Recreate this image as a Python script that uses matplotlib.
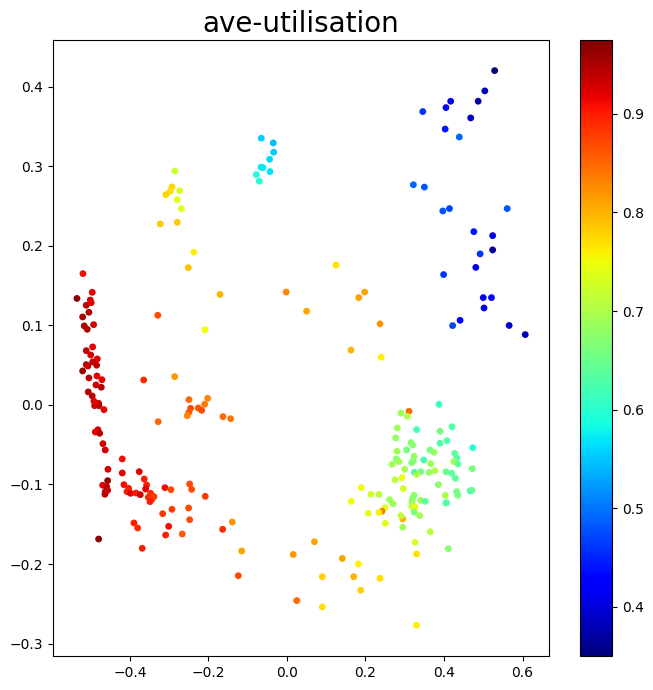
import matplotlib
matplotlib.use('Agg')
import matplotlib.pyplot as plt
import numpy as np

# values, one group of lists per cluster
blue_x = [.529,.504,.487,.417,.405,.346,.468,.403,.439,.322,.350,.414,.397,.561,.476,.524,.524,.492,.481,.399,.500,.521,.502,.441,.422,.566,.607]
blue_y = [.4205,.395,.382,.382,.374,.369,.361,.347,.337,.277,.274,.247,.244,.247,.218,.213,.195,.190,.173,.164,.135,.135,.122,.1065,.0998,.100,.0885]
blue_c = [.35,.38,.37,.42,.43,.46,.39,.44,.49,.49,.48,.47,.48,.48,.44,.41,.36,.46,.41,.46,.41,.41,.41,.43,.47,.39,.38]

cyan_x = [-.0655,-.0349,-.0339,-.0441,-.0662,-.0611,-.0782,-.0433,-.0706]
cyan_y = [.3355,.3296,.3179,.309,.299,.2985,.2897,.2935,.2814]
cyan_c = [.555,.545,.555,.56,.57,.57,.59,.565,.595]

yellow_x = [-.2854,-.293,-.2734,-.2973,-.3083,-.2795,-.2693,-.3228,-.2795]
yellow_y = [.2943,.2742,.2696,.2688,.2645,.2582,.2469,.2277,.2298]
yellow_c = [.72,.775,.73,.77,.775,.745,.74,.785,.785]

# scattered points in the middle and along the bottom
mid_x = [-.237,-.2514,-.1707,-.002,.050,.125,.183,.198,.237,.163,.240,-.209,-.329,-.286,-.365,
         -.2497,-.202,-.2097,-.226,-.2174,-.2454,-.2497,-.254,-.163,-.1434,-.328,
         .016,.07,.025,.141,.182,.09,.170,.237,.188,.09,.33]
mid_y = [.192,.1727,.139,.142,.118,.176,.135,.142,.102,.069,.060,.0947,.1128,.0356,.0314,
         .0067,.0084,.0009,-.0038,-.0067,-.0042,-.0092,-.0135,-.0147,-.0172,-.021,
         -.188,-.172,-.246,-.193,-.200,-.216,-.216,-.218,-.233,-.254,-.277]
mid_c = [.76,.79,.80,.83,.81,.77,.81,.81,.82,.80,.76,.75,.87,.82,.89,
         .85,.83,.84,.86,.87,.87,.86,.83,.85,.84,.85,
         .82,.81,.85,.81,.76,.78,.80,.77,.78,.77,.76]

left_x = [-.5197,-.496,-.535,-.501,-.4986,-.5113,-.5045,-.5205,-.4925,-.5164,-.5088,-.495,-.5113,-.5,-.4832,
          -.495,-.5113,-.507,-.4849,-.5205,-.4841,-.5045,-.4713,-.4866,-.473,-.5062,-.496,-.4917,-.4798,-.49,
          -.479,-.4662,-.4815,-.4884,-.4772,-.4688,-.4629,-.4196]
left_y = [.1652,.1417,.134,.132,.1287,.1254,.1166,.1107,.101,.0994,.0952,.073,.0683,.0629,.0579,
          .0541,.0507,.049,.05,.0428,.0365,.034,.0318,.0252,.0223,.0164,.0113,.0047,.0021,-.0009,
          -.0009,-.0059,-.0311,-.034,-.0356,-.0487,-.0566,-.0679]
left_c = [.91,.92,.97,.93,.92,.94,.95,.95,.93,.95,.95,.92,.94,.93,.92,
          .94,.95,.94,.94,.96,.92,.94,.92,.93,.95,.95,.94,.92,.93,.93,
          .94,.92,.93,.92,.94,.93,.93,.91]

red_x = [-.456,-.4196,-.3763,-.3636,-.4568,-.4696,-.4594,-.3575,-.4153,-.4033,-.3601,-.4568,-.4629,-.4637,-.4076,
         -.3983,-.3847,-.3737,-.3473,-.3389,-.3533,-.3439,-.349,-.3108,-.2955,-.2479,-.2428,-.2081,-.2505,-.293,
         -.3167,-.2479,-.3898,-.3804,-.3014,-.1394,-.1638,-.3091,-.2667,-.4798,-.3687,-.1154,-.124]
red_y = [-.0809,-.0855,-.0839,-.0931,-.0952,-.101,-.1028,-.1006,-.1002,-.1048,-.1057,-.1073,-.109,-.1123,-.109,
         -.1111,-.1107,-.1128,-.1111,-.1153,-.1161,-.1186,-.1216,-.104,-.1065,-.0994,-.1061,-.1149,-.1296,-.1312,
         -.1367,-.1443,-.1484,-.1547,-.1526,-.1472,-.1564,-.1635,-.1623,-.1686,-.1803,-.1836,-.2147]
red_c = [.93,.92,.92,.90,.96,.92,.94,.90,.91,.90,.92,.93,.94,.94,.90,
         .92,.90,.93,.89,.88,.89,.88,.90,.91,.87,.87,.87,.88,.87,.88,
         .88,.87,.90,.89,.91,.82,.89,.90,.86,.97,.90,.81,.87]

green_x = [.3873,.2904,.3108,.3066,.4204,.2811,.3304,.3898,.2769,.4076,.3898,.3159,.3202,.4731,.3049,
           .3643,.3745,.2803,.4272,.4331,.3236,.2785,.2854,.2675,.3218,.3177,.3483,.3661,.4247,.4357,
           .2999,.4721,.3243,.3406,.3304,.3618,.3771,.4051,.4196,.4288,.293,.2752,.3855,.2963,.1893,
           .467,.4713,.4323,.4349,.214,.2344,.4034,.3236,.3202,.2616,.3406,.3524,.3185,.2701,.1639,
           .4042,.4068,.3177,.3261,.2497,.2072,.242,.2344,.3243,.2948,.2904,.3381,.2505,.2948,.3651,
           .3261,.411,.3304]
green_y = [.0008,-.0101,-.0080,-.0143,-.0273,-.0289,-.031,-.0331,-.0415,-.0449,-.0482,-.0474,-.0503,-.0537,-.0566,
           -.0566,-.0595,-.0582,-.0608,-.0667,-.0645,-.0679,-.0713,-.0746,-.0704,-.0726,-.0692,-.0738,-.0713,-.0742,
           -.0809,-.0801,-.0847,-.0839,-.0872,-.0847,-.0826,-.0839,-.0859,-.0922,-.0914,-.0943,-.1002,-.1052,-.104,
           -.108,-.1073,-.109,-.1136,-.1124,-.1124,-.1136,-.1136,-.1178,-.1191,-.1199,-.1212,-.1216,-.1241,-.1212,
           -.1233,-.1229,-.1279,-.1283,-.1292,-.1362,-.1337,-.135,-.135,-.1434,-.1392,-.1392,-.1488,-.1538,-.1594,
           -.1727,-.1807,-.1874]
green_c = [.61,.69,.85,.70,.63,.69,.62,.66,.68,.63,.63,.67,.67,.60,.66,
           .66,.68,.69,.64,.63,.68,.67,.69,.69,.67,.67,.62,.69,.69,.64,
           .70,.66,.62,.65,.70,.68,.70,.65,.64,.64,.75,.71,.67,.73,.75,
           .60,.65,.66,.66,.73,.71,.70,.67,.67,.69,.68,.64,.68,.69,.75,
           .65,.63,.71,.74,.74,.74,.84,.76,.66,.80,.71,.69,.74,.69,.71,
           .73,.67,.77]

x = np.array(blue_x + cyan_x + yellow_x + mid_x + left_x + red_x + green_x)
y = np.array(blue_y + cyan_y + yellow_y + mid_y + left_y + red_y + green_y)
c = np.array(blue_c + cyan_c + yellow_c + mid_c + left_c + red_c + green_c)

fig = plt.figure(figsize=(6.53, 6.9), dpi=100)
ax = fig.add_axes([53/653, 34/690, 496/653, 616/690])
cax = fig.add_axes([580/653, 34/690, 32/653, 616/690])

sc = ax.scatter(x, y, c=c, s=24, cmap='jet', vmin=0.35, vmax=0.975, linewidths=0)
ax.set_xlim(-0.596, 0.6675)
ax.set_ylim(-0.3157, 0.459)
ax.set_xticks([-0.4, -0.2, 0.0, 0.2, 0.4, 0.6])
ax.set_title('ave-utilisation', fontsize=20)

cb = fig.colorbar(sc, cax=cax)
cb.set_ticks([0.4, 0.5, 0.6, 0.7, 0.8, 0.9])

fig.savefig('out.png', dpi=100)
